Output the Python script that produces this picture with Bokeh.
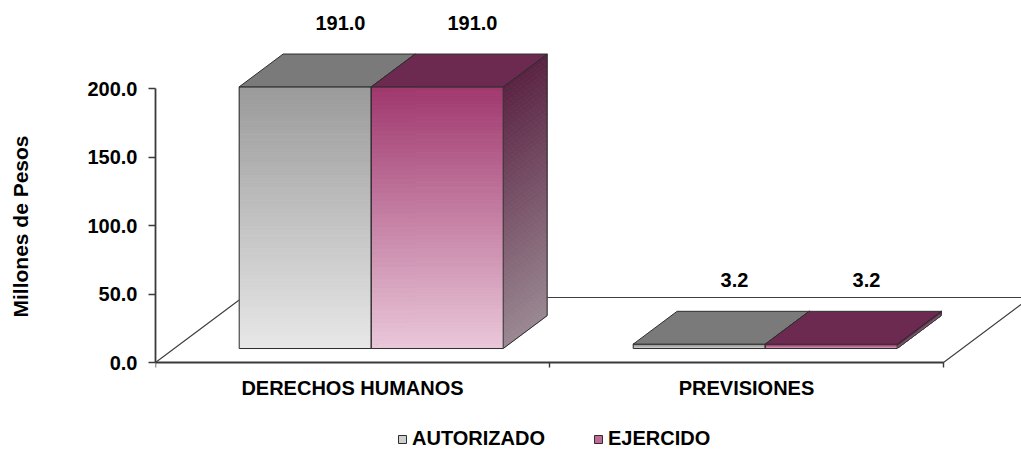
import numpy as np
from bokeh.plotting import figure
from bokeh.models import Range1d, FixedTicker, Legend, LegendItem, ColumnDataSource
from bokeh.embed import file_html
from bokeh.resources import INLINE
from bokeh.core.properties import value

# ---------------- data ----------------
categories = ["DERECHOS HUMANOS", "PREVISIONES"]
series_names = ["AUTORIZADO", "EJERCIDO"]
autorizado = [191.0, 3.2]
ejercido = [191.0, 3.2]
y_ticks = [0, 50, 100, 150, 200]
y_tick_labels = ["0.0", "50.0", "100.0", "150.0", "200.0"]
y_title = "Millones de Pesos"

# ---------------- styles ----------------
FONT = "Liberation Sans"
FS = "20px"
front_top = ["#9a9a9a", "#a0386e"]
front_bottom = ["#e8e8e8", "#eac8da"]
side_top = ["#5e5e5e", "#5a2343"]
side_bottom = ["#a8a8a8", "#9a8892"]
top_fill = ["#7a7a7a", "#6d2a50"]
legend_fill = ["#cfcfcf", "#c06a98"]
EDGE = "#2e2e2e"
AXIS = "#3a3a3a"

# ---------------- layout (pixels) ----------------
W, H = 1021, 452
LEFT = 155
ZERO_Y = 362            # canvas y of value 0
FW = W - LEFT
PX_CAT = 394.0          # pixels per category
PX_VAL = 1.37           # pixels per value unit
FLOOR_DX, FLOOR_DY = 87.0, 65.0   # full floor depth offset in px
D0, D1 = 0.215, 0.72    # bar depth (fraction of floor depth)
BAR_W = 132.0 / PX_CAT  # width of one bar in category units
N = 60                  # gradient strips


def off(d):
    return d * FLOOR_DX / PX_CAT, d * FLOOR_DY / PX_VAL


def mix(c0, c1, t):
    a = np.array([int(c0[i:i + 2], 16) for i in (1, 3, 5)], float)
    b = np.array([int(c1[i:i + 2], 16) for i in (1, 3, 5)], float)
    c = a + (b - a) * t
    return "#%02x%02x%02x" % tuple(int(round(v)) for v in c)


p = figure(width=W, height=H, output_backend="svg", toolbar_location=None,
           x_range=Range1d(0, FW / PX_CAT),
           y_range=Range1d(-(H - ZERO_Y) / PX_VAL, ZERO_Y / PX_VAL),
           x_axis_location=None,
           min_border_left=LEFT, min_border_right=0, min_border_top=0,
           min_border_bottom=0)
p.outline_line_color = None
p.grid.visible = False
p.background_fill_color = "white"

ncat = len(categories)

# floor
fx1, fy1 = off(1)
p.patch([0, ncat, ncat + fx1, fx1], [0, 0, fy1, fy1], fill_color="white",
        line_color="#404040", line_width=1.2)

# category axis: baseline, ticks, labels
p.segment(x0=[0], y0=[0], x1=[ncat], y1=[0], line_color=AXIS, line_width=1.8)
bounds = list(range(ncat + 1))
p.segment(x0=bounds, y0=[0] * len(bounds), x1=bounds,
          y1=[-5 / PX_VAL] * len(bounds), line_color=AXIS, line_width=1.4)
p.text(x=[i + 0.5 for i in range(ncat)], y=[-25.5 / PX_VAL] * ncat,
       text=categories, text_font=value(FONT), text_font_style="bold",
       text_font_size=FS, text_align="center", text_baseline="middle",
       text_color="black")

series_vals = [autorizado, ejercido]
dx0, dy0 = off(D0)
dx1, dy1 = off(D1)

fr = dict(left=[], right=[], bottom=[], top=[], color=[])
sd = dict(xs=[], ys=[], color=[])
fo = dict(left=[], right=[], bottom=[], top=[])
so = dict(xs=[], ys=[])
tp = dict(xs=[], ys=[], color=[])
lab = dict(x=[], y=[], text=[])

for c in range(ncat):
    for s, vals in enumerate(series_vals):
        v = vals[c]
        x0 = c + 0.5 - BAR_W * len(series_vals) / 2 + s * BAR_W
        x1 = x0 + BAR_W
        for k in range(N):
            ya, yb = v * k / N, v * (k + 1) / N
            t = 1 - (k + 0.5) / N
            col = mix(front_top[s], front_bottom[s], t)
            fr["left"].append(x0 + dx0); fr["right"].append(x1 + dx0)
            fr["bottom"].append(ya + dy0); fr["top"].append(yb + dy0)
            fr["color"].append(col)
            scol = mix(side_top[s], side_bottom[s], t)
            sd["xs"].append([x1 + dx0, x1 + dx1, x1 + dx1, x1 + dx0])
            sd["ys"].append([ya + dy0, ya + dy1, yb + dy1, yb + dy0])
            sd["color"].append(scol)
        fo["left"].append(x0 + dx0); fo["right"].append(x1 + dx0)
        fo["bottom"].append(dy0); fo["top"].append(v + dy0)
        so["xs"].append([x1 + dx0, x1 + dx1, x1 + dx1, x1 + dx0])
        so["ys"].append([dy0, dy1, v + dy1, v + dy0])
        tp["xs"].append([x0 + dx0, x1 + dx0, x1 + dx1, x0 + dx1])
        tp["ys"].append([v + dy0, v + dy0, v + dy1, v + dy1])
        tp["color"].append(top_fill[s])
        lx, _ = off(0.62)
        lab["x"].append((x0 + x1) / 2 + lx)
        lab["y"].append(v + 78 / PX_VAL)
        lab["text"].append(f"{v:.1f}")

p.patches("xs", "ys", source=ColumnDataSource(sd), fill_color="color",
          line_color="color", line_width=0.8)
p.patches("xs", "ys", source=ColumnDataSource(so), fill_color=None,
          line_color=EDGE, line_width=1)
p.quad(left="left", right="right", bottom="bottom", top="top",
       source=ColumnDataSource(fr), fill_color="color", line_color="color",
       line_width=0.8)
p.quad(left="left", right="right", bottom="bottom", top="top",
       source=ColumnDataSource(fo), fill_color=None, line_color=EDGE,
       line_width=1)
p.patches("xs", "ys", source=ColumnDataSource(tp), fill_color="color",
          line_color=EDGE, line_width=1)
p.text("x", "y", text="text", source=ColumnDataSource(lab),
       text_font=value(FONT), text_font_style="bold", text_font_size=FS,
       text_align="center", text_baseline="middle", text_color="black")

# y axis
ya = p.yaxis[0]
ya.ticker = FixedTicker(ticks=y_ticks, minor_ticks=[])
ya.major_label_overrides = {t: l for t, l in zip(y_ticks, y_tick_labels)}
ya.bounds = (y_ticks[0], y_ticks[-1])
ya.axis_line_color = AXIS
ya.axis_line_width = 1.8
ya.major_tick_line_color = AXIS
ya.major_tick_line_width = 1.4
ya.major_tick_out = 7
ya.major_tick_in = 0
ya.major_label_standoff = 11
ya.major_label_text_font = FONT
ya.major_label_text_font_style = "bold"
ya.major_label_text_font_size = FS
ya.major_label_text_color = "black"
ya.axis_label = y_title
ya.axis_label_text_font = FONT
ya.axis_label_text_font_style = "bold"
ya.axis_label_text_font_size = "21px"
ya.axis_label_text_color = "black"
ya.axis_label_standoff = 52

# legend (swatch renderers hold one empty point so nothing shows in the plot)
leg_r = []
for s in range(len(series_names)):
    src = ColumnDataSource(dict(l=[np.nan], r=[np.nan], b=[np.nan], t=[np.nan]))
    r = p.quad(left="l", right="r", bottom="b", top="t", source=src,
               fill_color=legend_fill[s], line_color=EDGE, line_width=1)
    leg_r.append(r)
legend = Legend(items=[LegendItem(label=n, renderers=[r]) for n, r in zip(series_names, leg_r)],
                orientation="horizontal", location=(242, 2), padding=0, margin=0,
                spacing=48, glyph_width=10, glyph_height=10, label_standoff=5,
                label_height=18,
                label_text_font=FONT, label_text_font_style="bold",
                label_text_font_size=FS, label_text_color="black",
                border_line_color=None, background_fill_alpha=0)
p.add_layout(legend)

open("out.html", "w").write(file_html(p, INLINE))
